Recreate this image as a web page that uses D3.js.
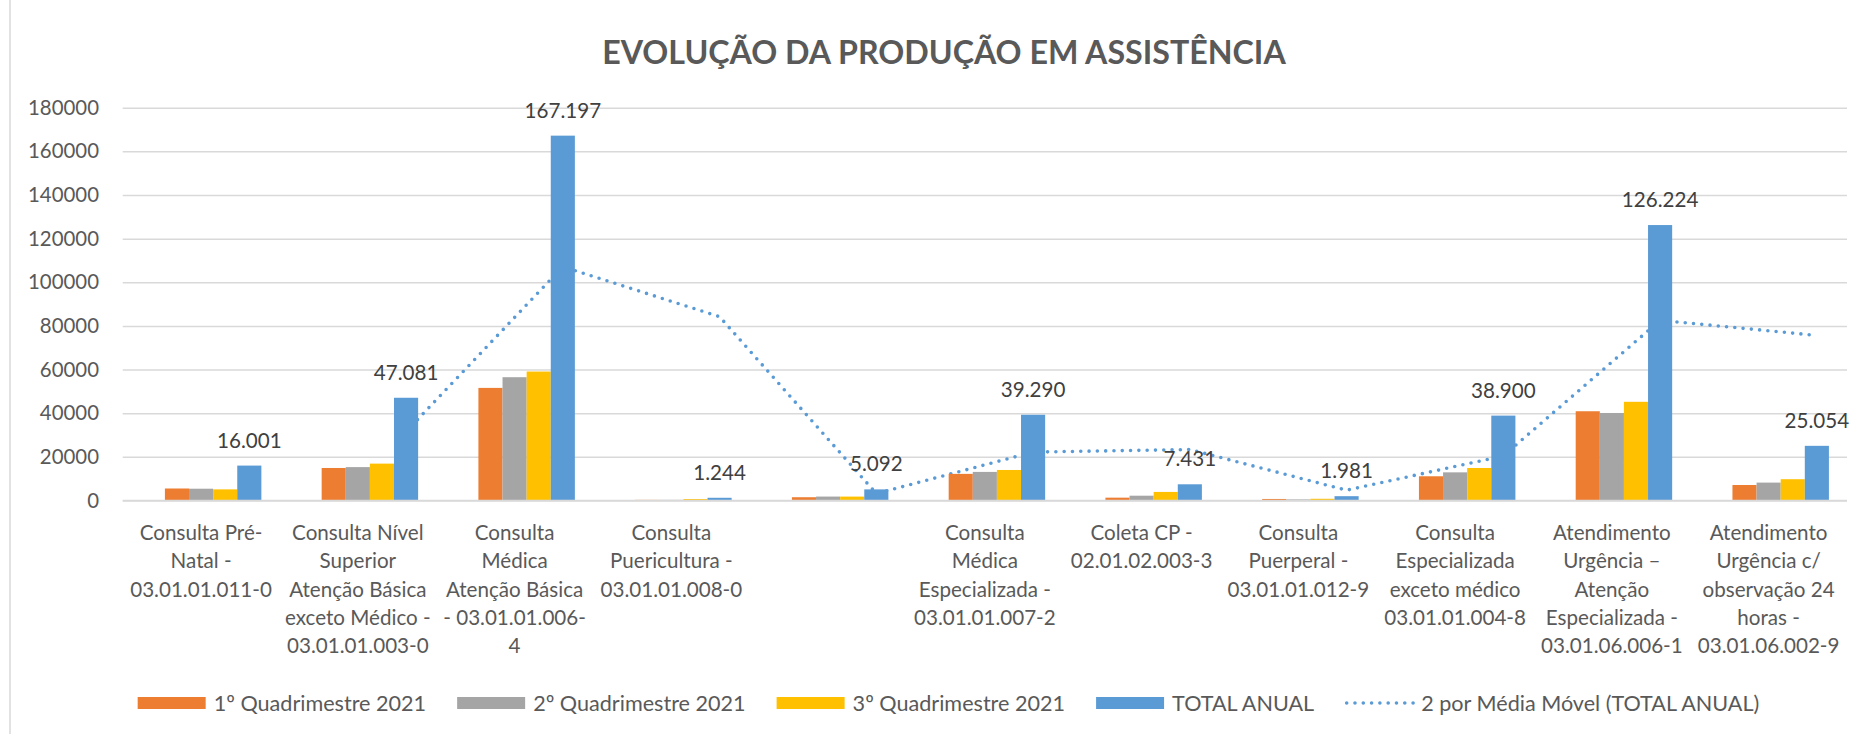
<!DOCTYPE html>
<html>
<head>
<meta charset="utf-8">
<script src="https://cdn.jsdelivr.net/npm/d3@7/dist/d3.min.js"></script>
<style>
    body { margin: 0; background: #fff; }
    svg text { font-family: Lato, 'Open Sans', sans-serif; }
</style>
</head>
<body>
<div class="chart-container"></div>
<script>
// Data
const categories = [
    'Consulta Pré-\nNatal -\n03.01.01.011-0',
    'Consulta Nível\nSuperior\nAtenção Básica\nexceto Médico -\n03.01.01.003-0',
    'Consulta\nMédica\nAtenção Básica\n- 03.01.01.006-\n4',
    'Consulta\nPuericultura -\n03.01.01.008-0',
    '',
    'Consulta\nMédica\nEspecializada -\n03.01.01.007-2',
    'Coleta CP -\n02.01.02.003-3',
    'Consulta\nPuerperal -\n03.01.01.012-9',
    'Consulta\nEspecializada\nexceto médico\n03.01.01.004-8',
    'Atendimento\nUrgência –\nAtenção\nEspecializada -\n03.01.06.006-1',
    'Atendimento\nUrgência c/\nobservação 24\nhoras -\n03.01.06.002-9'
];

const seriesNames = ['1º Quadrimestre 2021', '2º Quadrimestre 2021', '3º Quadrimestre 2021', 'TOTAL ANUAL'];
const trendName = '2 por Média Móvel (TOTAL ANUAL)';

const quad1 = [5500, 14900, 51600, 300, 1500, 12200, 1300, 700, 11100, 40900, 7100];
const quad2 = [5400, 15300, 56500, 300, 1800, 13100, 2200, 500, 12900, 40100, 8200];
const quad3 = [5100, 16900, 59100, 644, 1792, 13990, 3931, 781, 14900, 45224, 9754];
const totalAnual = [16001, 47081, 167197, 1244, 5092, 39290, 7431, 1981, 38900, 126224, 25054];
// moving average (2 periods) of TOTAL ANUAL, first point has none
const movingAvg = [null, 31541, 107139, 84221, 3168, 22191, 23361, 4706, 20441, 82562, 75639];

const yTicks = [0, 20000, 40000, 60000, 80000, 100000, 120000, 140000, 160000, 180000];
const colors = ['#ED7D31', '#A5A5A5', '#FFC000', '#5B9BD5'];

// Layout
const W = 1856, H = 734;
const margin = {top: 107.7, right: 9, bottom: 233.5, left: 122.7};
const width = W - margin.left - margin.right;
const height = H - margin.top - margin.bottom;

const seriesValues = [quad1, quad2, quad3, totalAnual];
const rows = categories.map((c, i) => ({
    i: i,
    label: c,
    values: seriesNames.map((s, k) => ({key: s, value: seriesValues[k][i], color: colors[k]}))
}));

// Scales
const x0 = d3.scaleBand()
    .domain(d3.range(categories.length))
    .range([0, width])
    .padding(0);

// first slot of each cluster is an empty series in the source chart
const x1 = d3.scaleBand()
    .domain(['', ...seriesNames])
    .range([0, x0.bandwidth()])
    .paddingInner(0)
    .paddingOuter(0.75);

const y = d3.scaleLinear()
    .domain([0, 180000])
    .range([height, 0]);

// Base
const svg = d3.select('.chart-container')
    .append('svg')
    .attr('width', W)
    .attr('height', H);

svg.append('rect')
    .attr('width', W)
    .attr('height', H)
    .attr('fill', '#fff');

svg.append('line')
    .attr('x1', 10).attr('x2', 10)
    .attr('y1', 0).attr('y2', H)
    .attr('stroke', '#d9d9d9')
    .attr('stroke-width', 1.5);

// Title
svg.append('text')
    .attr('x', 944)
    .attr('y', 64)
    .attr('text-anchor', 'middle')
    .style('font-size', '32.2px')
    .style('font-weight', 'bold')
    .style('fill', '#595959')
    .text('EVOLUÇÃO DA PRODUÇÃO EM ASSISTÊNCIA');

const g = svg.append('g')
    .attr('transform', `translate(${margin.left}, ${margin.top})`);

// Grid + y axis
const yAxis = d3.axisLeft(y)
    .tickValues(yTicks)
    .tickFormat(d3.format('d'))
    .tickSizeInner(-width)
    .tickSizeOuter(0)
    .tickPadding(23.7);

const yAxisDraw = g.append('g')
    .attr('class', 'y axis')
    .call(yAxis);

yAxisDraw.select('.domain').remove();
yAxisDraw.selectAll('line')
    .attr('stroke', '#d9d9d9')
    .attr('stroke-width', 1.5);
yAxisDraw.selectAll('text')
    .style('font-size', '20.4px')
    .style('fill', '#595959')
    .style('font-family', 'Lato, sans-serif');

// Moving average trendline (drawn behind the bars like the original)
const totalX = i => x0(i) + x1('TOTAL ANUAL') + x1.bandwidth() / 2;

const line = d3.line()
    .defined(d => d !== null)
    .x((d, i) => totalX(i))
    .y(d => y(d));

g.append('path')
    .datum(movingAvg)
    .attr('d', line)
    .attr('fill', 'none')
    .attr('stroke', '#5B9BD5')
    .attr('stroke-width', 3.6)
    .attr('stroke-linecap', 'round')
    .attr('stroke-dasharray', '0 8.3');

// Bars
const groups = g.selectAll('.cluster')
    .data(rows)
    .enter()
    .append('g')
    .attr('class', 'cluster')
    .attr('transform', d => `translate(${x0(d.i)}, 0)`);

groups.selectAll('rect')
    .data(d => d.values)
    .enter()
    .append('rect')
    .attr('x', d => x1(d.key))
    .attr('y', d => y(d.value))
    .attr('width', x1.bandwidth())
    .attr('height', d => y(0) - y(d.value))
    .attr('fill', d => d.color);

// Baseline
g.append('line')
    .attr('x1', 0).attr('x2', width)
    .attr('y1', y(0)).attr('y2', y(0))
    .attr('stroke', '#d9d9d9')
    .attr('stroke-width', 1.5);

// Data labels on TOTAL ANUAL
const fmtLabel = d3.formatLocale({decimal: ',', thousands: '.', grouping: [3], currency: ['', '']}).format(',d');

g.selectAll('.total-label')
    .data(totalAnual)
    .enter()
    .append('text')
    .attr('class', 'total-label')
    .attr('x', (d, i) => totalX(i))
    .attr('y', d => y(d) - 18)
    .attr('text-anchor', 'middle')
    .style('font-size', '20.6px')
    .style('fill', '#404040')
    .text(d => fmtLabel(d));

// Category labels
const catLabels = g.selectAll('.cat-label')
    .data(rows)
    .enter()
    .append('text')
    .attr('class', 'cat-label')
    .attr('transform', d => `translate(${x0(d.i) + x0.bandwidth() / 2}, ${540 - margin.top})`)
    .attr('text-anchor', 'middle')
    .style('font-size', '20.6px')
    .style('fill', '#595959');

catLabels.selectAll('tspan')
    .data(d => d.label.split('\n'))
    .enter()
    .append('tspan')
    .attr('x', 0)
    .attr('dy', (d, i) => i === 0 ? 0 : 28.3)
    .text(d => d);

// Legend
const legend = svg.append('g').attr('class', 'legend');
const legendItems = seriesNames.map((s, k) => ({name: s, color: colors[k], type: 'bar'}))
    .concat([{name: trendName, color: '#5B9BD5', type: 'line'}]);

let cursor = 0;
legendItems.forEach((item, k) => {
    const it = legend.append('g').attr('transform', `translate(${cursor}, 0)`);
    if (item.type === 'bar') {
        it.append('rect')
            .attr('x', 0).attr('y', -6)
            .attr('width', 68).attr('height', 12)
            .attr('fill', item.color);
    } else {
        it.append('line')
            .attr('x1', 1.5).attr('x2', 68)
            .attr('y1', 0).attr('y2', 0)
            .attr('stroke', item.color)
            .attr('stroke-width', 3.6)
            .attr('stroke-linecap', 'round')
            .attr('stroke-dasharray', '0 8.3');
    }
    const t = it.append('text')
        .attr('x', 76)
        .attr('y', 7.5)
        .style('font-size', '21.6px')
        .style('fill', '#595959')
        .text(item.name);
    cursor += 76 + t.node().getComputedTextLength() + 31;
});
const legendWidth = cursor - 31;
legend.attr('transform', `translate(${948.5 - legendWidth / 2}, 703)`);
</script>
</body>
</html>
